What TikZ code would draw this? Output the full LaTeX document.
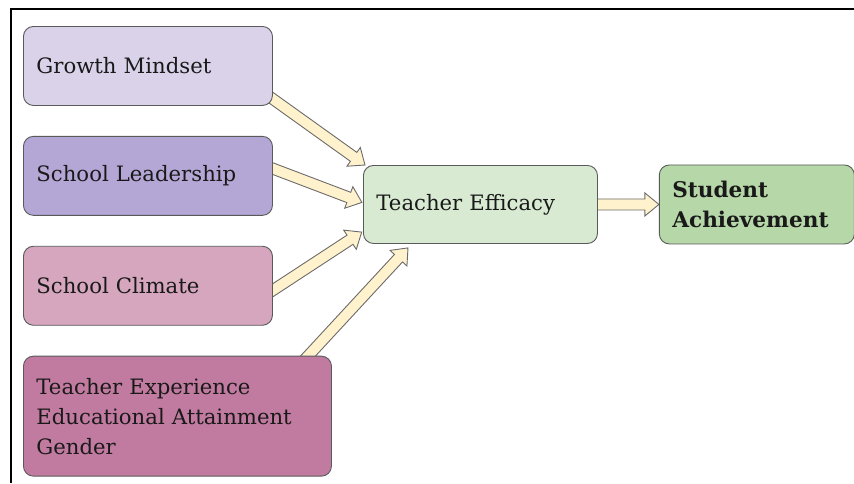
\documentclass[tikz,border=0pt]{standalone}
\usepackage{fontspec}
\setmainfont{DejaVu Serif}
\usepackage{tikz}
\usetikzlibrary{positioning,calc,backgrounds}
\definecolor{gmFill}{HTML}{D9D2E9}
\definecolor{slFill}{HTML}{B4A7D6}
\definecolor{scFill}{HTML}{D5A6BD}
\definecolor{txFill}{HTML}{C27BA0}
\definecolor{efFill}{HTML}{D9EAD3}
\definecolor{saFill}{HTML}{B6D7A8}
\definecolor{arFill}{HTML}{FFF2CC}
\definecolor{edgeGray}{HTML}{5A5A5A}

% block arrow from #1 to #2 (shaft 11pt, head 23pt wide)
\newcommand{\fatarrow}[2]{%
  \draw[fat] let \p1=(#1), \p2=(#2),
    \n1={atan2(\y2-\y1,\x2-\x1)}, \n2={veclen(\x2-\x1,\y2-\y1)} in
    [shift={(\p1)},rotate=\n1]
    (0pt,-5.5pt) -- (\n2-14pt,-5.5pt) -- (\n2-14pt,-11.5pt) -- (\n2,0pt)
    -- (\n2-14pt,11.5pt) -- (\n2-14pt,5.5pt) -- (0pt,5.5pt) -- cycle;}

\begin{document}
\begin{tikzpicture}[x=1pt,y=-1pt,
  box/.style={draw=edgeGray,line width=0.9pt,rounded corners=10pt,
    align=left,inner xsep=13pt,inner ysep=0pt,text=black!90,
    font=\fontsize{21.2}{30}\selectfont,
    minimum height=79pt,text width=223pt},
  fat/.style={draw=edgeGray!90,fill=arFill,line width=0.9pt}
]
\useasboundingbox (0,0) rectangle (854,483);
\draw[line width=2.5pt] (854,9) -- (11,9) -- (11,483);

% factors
\node[box,fill=gmFill,anchor=north west] (gm) at (23,26) {Growth Mindset};
\node[box,fill=slFill,below=30pt of gm] (sl) {School Leadership};
\node[box,fill=scFill,below=30pt of sl] (sc) {School Climate};
\node[box,fill=txFill,text width=282pt,minimum height=120pt,
  below right=30pt and 0pt of sc.south west] (tx)
  {Teacher Experience\\Educational Attainment\\Gender};

% outcome chain
\node[box,fill=efFill,text width=208pt,minimum height=78pt,anchor=north west]
  (ef) at (363,165) {Teacher Efficacy};
\node[box,fill=saFill,text width=169pt,right=61pt of ef,
  font=\fontsize{21.6}{30}\selectfont\bfseries] (sa) {Student\\Achievement};

\begin{pgfonlayer}{background}
\fatarrow{[xshift=-10pt,yshift=14pt]gm.south east}{[xshift=2pt]ef.north west}
\fatarrow{[xshift=-10pt,yshift=11pt]sl.east}{[xshift=-1pt,yshift=2pt]ef.west}
\fatarrow{[xshift=-10pt,yshift=-11pt]sc.east}{[xshift=-1pt,yshift=12pt]ef.south west}
\fatarrow{[xshift=-31pt,yshift=-8pt]tx.north east}{[xshift=45pt,yshift=-4pt]ef.south west}
\fatarrow{[xshift=-5pt]ef.east}{sa.west}
\end{pgfonlayer}
\end{tikzpicture}
\end{document}
